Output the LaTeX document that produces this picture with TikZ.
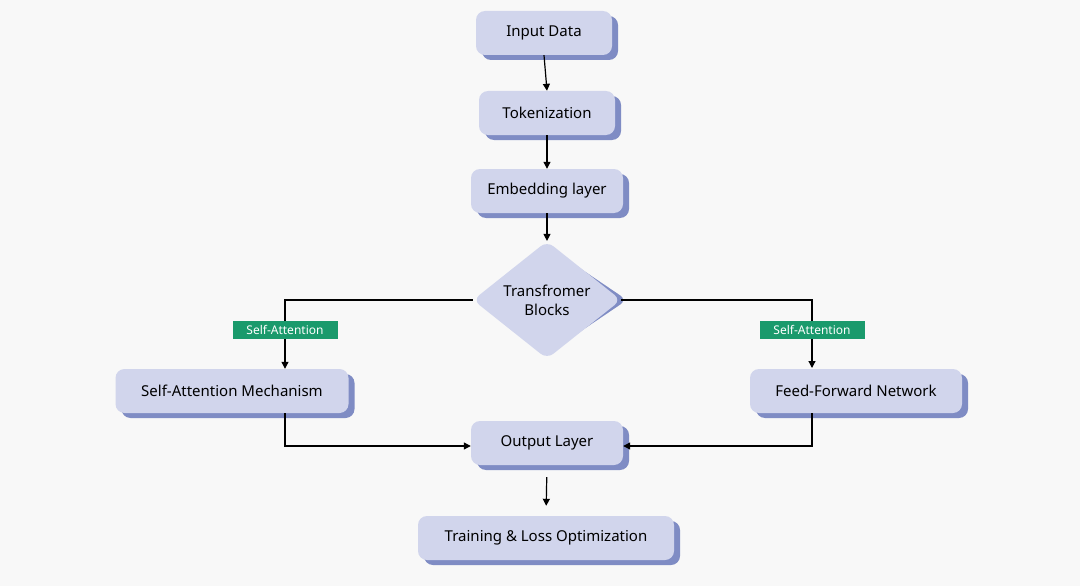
\documentclass[tikz,border=0pt]{standalone}
\usepackage{fontspec}
\setmainfont{Noto Sans}
\usetikzlibrary{shapes.geometric,arrows.meta}
\definecolor{bg}{HTML}{F8F8F8}
\definecolor{nfill}{HTML}{D1D5EC}
\definecolor{nshadow}{HTML}{7F8CC4}
\definecolor{lgreen}{HTML}{1A9A6C}
\begin{document}
\begin{tikzpicture}[x=1pt,y=-1pt,
  box/.style={draw=none,fill=nfill,rounded corners=9pt,minimum height=44pt,inner sep=0pt,font=\fontsize{15}{18}\selectfont,
    postaction={}},
  sh/.style={fill=nshadow,rounded corners=9pt},
  lab/.style={fill=lgreen,text=white,font=\fontsize{12}{14}\selectfont,inner sep=0pt,minimum height=18pt,minimum width=105pt},
  arr/.style={-{Triangle[length=7pt,width=7pt]},line width=1.2pt},
  ln/.style={line width=1.2pt}]
\fill[bg] (0,0) rectangle (1080,586);
\useasboundingbox (0,0) rectangle (1080,586);
\newcommand\mybox[5]{% name, x, y, w, text
  \fill[sh] (#2-#4/2+6,#3-22+5) rectangle (#2+#4/2+6,#3+22+5);
  \node[box,minimum width=#4 pt] (#1) at (#2,#3) {#5};}
\mybox{inp}{544}{33}{136}{Input Data}
\mybox{tok}{547}{113}{136}{Tokenization}
\mybox{emb}{547}{191}{152}{Embedding layer}
\mybox{sam}{232}{391}{233}{Self-Attention Mechanism}
\mybox{ffn}{856}{391}{212}{Feed-Forward Network}
\mybox{out}{547}{443}{152}{Output Layer}
\mybox{trn}{546}{538}{256}{Training \& Loss Optimization}
\fill[nshadow,rounded corners=8pt] (553,250)--(627,300)--(553,350)--(479,300)--cycle;
\node[diamond,fill=nfill,rounded corners=8pt,minimum width=148pt,minimum height=100pt,inner sep=0pt,align=center,font=\fontsize{15}{19}\selectfont] (tb) at (547,300) {Transfromer\\Blocks};
\draw[arr] (inp.south) -- (tok.north);
\draw[arr] (tok.south) -- (emb.north);
\draw[arr] (emb.south) -- (tb.north);
\draw[arr] (tb.west) -| (sam.north -| 285,0) coordinate (a);
\draw[arr] (tb.east) -| (812,368);
\node[lab] (l1) at (285,330) {Self-Attention};
\node[lab] (l2) at (812,330) {Self-Attention};
\draw[arr] (285,413) |- (out.west |- 0,446);
\draw[arr] (812,413) |- (out.east |- 0,446);
\draw[arr,shorten <=12pt,shorten >=10pt] (out.south) -- (trn.north);
\end{tikzpicture}
\end{document}
